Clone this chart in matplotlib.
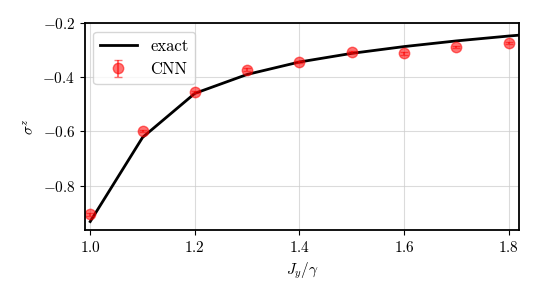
import matplotlib
matplotlib.use("Agg")
import matplotlib.pyplot as plt

plt.rcParams['font.family'] = 'serif'
plt.rcParams['font.serif'] = ['cmr10']
plt.rcParams['mathtext.fontset'] = 'cm'
plt.rcParams['axes.formatter.use_mathtext'] = True
plt.rcParams['font.size'] = 11

# exact curve
j_exact = [1.0, 1.1, 1.2, 1.3, 1.4, 1.5, 1.6, 1.7, 1.8, 1.9]
s_exact = [-0.933, -0.622, -0.459, -0.389, -0.343, -0.311, -0.286, -0.265, -0.247, -0.231]

# CNN estimates
j_cnn = [1.0, 1.1, 1.2, 1.3, 1.4, 1.5, 1.6, 1.7, 1.8]
s_cnn = [-0.906, -0.598, -0.454, -0.371, -0.342, -0.306, -0.311, -0.289, -0.272]
s_err = [0.005, 0.004, 0.004, 0.004, 0.004, 0.004, 0.005, 0.004, 0.004]


def main():
    fig = plt.figure(figsize=(5.38, 2.99), dpi=100)
    ax = fig.add_axes([0.158, 0.231, 0.807, 0.691])
    ax.plot(j_exact, s_exact, color='black', lw=2, label='exact')
    ax.errorbar(j_cnn, s_cnn, yerr=s_err, fmt='o', color='red', alpha=0.55,
                markersize=7.5, capsize=3, label='CNN')
    ax.set_xlim(0.99, 1.82)
    ax.set_ylim(-0.964, -0.2)
    ax.set_xticks([1.0, 1.2, 1.4, 1.6, 1.8])
    ax.set_yticks([-0.8, -0.6, -0.4, -0.2])
    ax.grid(True, color='#cccccc', alpha=0.7)
    ax.set_xlabel(r'$J_y/\gamma$')
    ax.set_ylabel(r'$\sigma^z$')
    for s in ax.spines.values():
        s.set_linewidth(1.3)
    ax.legend(loc='upper left', fontsize=12, handlelength=2.2)
    fig.savefig('out.png', dpi=100)
    plt.close(fig)


if __name__ == "__main__":
    main()
